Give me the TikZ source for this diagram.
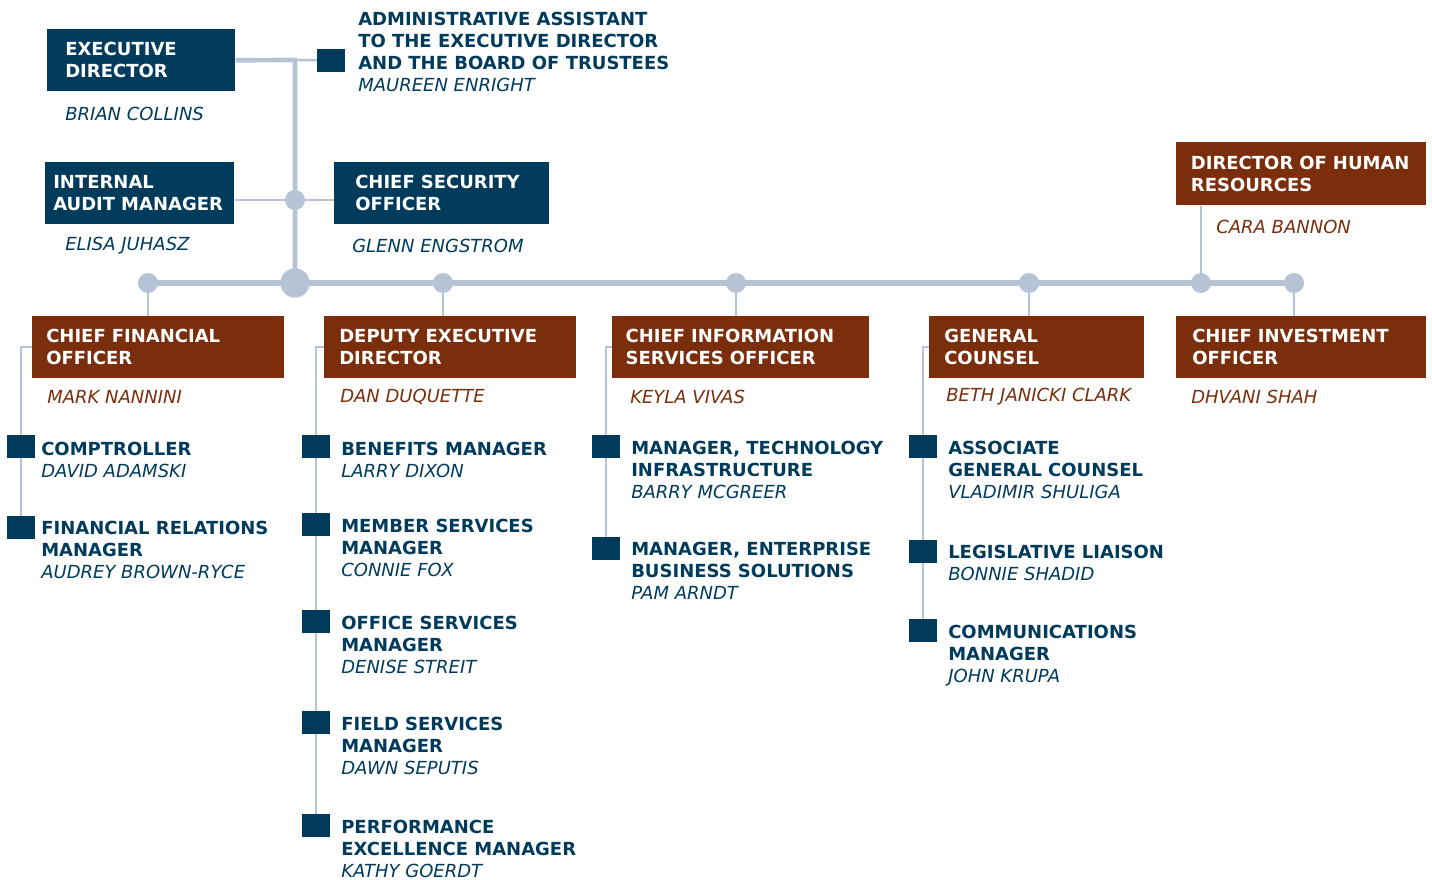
\documentclass[tikz,border=0pt]{standalone}
\usepackage{fontspec}
\setmainfont{DejaVu Sans}
\usetikzlibrary{positioning,backgrounds}
\definecolor{navy}{HTML}{003B5C}
\definecolor{rust}{HTML}{7A2E0C}
\definecolor{steel}{HTML}{B5C3D4}
\newcommand{\hdrfont}{\bfseries\fontsize{13.5}{16.5}\selectfont\hyphenpenalty=10000}
\newcommand{\itemfont}{\bfseries\fontsize{13.5}{16.5}\selectfont}
\newcommand{\whofont}{\mdseries\itshape\fontsize{13.5}{16.5}\selectfont}
\tikzset{
  hdr/.style={anchor=north west, minimum height=46.5pt, inner ysep=0pt, align=left, font=\hdrfont, text=white},
  who/.style={anchor=west, inner sep=0pt, font=\whofont},
  item/.style={anchor=north west, inner sep=0pt, align=left, font=\itemfont, text=navy},
  sq/.style={fill=navy, minimum width=20.5pt, minimum height=17.25pt, inner sep=0pt},
  dot/.style={circle, fill=steel, minimum size=15pt, inner sep=0pt},
  link/.style={draw=steel, line width=1.8pt},
  trunk/.style={draw=steel, line width=3.5pt},
  bus/.style={draw=steel, line width=4.5pt},
}
\begin{document}
\begin{tikzpicture}[x=0.75pt, y=-0.75pt]
\useasboundingbox (0,0) rectangle (1432,880);

% executive level
\node[hdr, fill=navy, inner xsep=13.5pt, text width=114pt] (ed) at (47,29) {EXECUTIVE\\DIRECTOR};
\node[who, text=navy] (ed-n) at (65,114) {BRIAN COLLINS};
\node[sq] (aa) at (331,60.5) {};
\node[item] (aa-t) at (358,11.4) {ADMINISTRATIVE ASSISTANT\\TO THE EXECUTIVE DIRECTOR\\AND THE BOARD OF TRUSTEES\\{\whofont MAUREEN ENRIGHT}};
\node[hdr, fill=navy, inner xsep=6pt, text width=129.75pt] (iam) at (45,162) {INTERNAL\\AUDIT MANAGER};
\node[who, text=navy] (iam-n) at (65,246) {ELISA JUHASZ};
\node[hdr, fill=navy, inner xsep=15.75pt, text width=129.75pt] (cso) at (334,162) {CHIEF SECURITY\\OFFICER};
\node[who, text=navy] (cso-n) at (352,246) {GLENN ENGSTROM};
\node[hdr, fill=rust, inner xsep=11pt, text width=165.5pt, minimum height=47.25pt] (hr) at (1176,142) {DIRECTOR OF HUMAN\\RESOURCES};
\node[who, text=rust] (hr-n) at (1216,227) {CARA BANNON};

% bus and dots
\node[dot, minimum size=22pt] (hub) at (295,283) {};
\node[dot] (mid) at (295,200) {};
\foreach \n/\x in {cfo/148, ded/443, ciso/736, gc/1029, hr/1201, cio/1294}
  \node[dot] (d-\n) at (\x,283) {};

% department heads
\node[hdr, fill=rust, inner xsep=10.5pt, text width=168pt] (cfo) at (32,316) {CHIEF FINANCIAL\\OFFICER};
\node[who, text=rust] (cfo-n) at (47,397) {MARK NANNINI};
\node[hdr, fill=rust, inner xsep=11.25pt, text width=166.5pt] (ded) at (324,316) {DEPUTY EXECUTIVE\\DIRECTOR};
\node[who, text=rust] (ded-n) at (340,397) {DAN DUQUETTE};
\node[hdr, fill=rust, inner xsep=10pt, text width=172.75pt] (ciso) at (612,316) {CHIEF INFORMATION\\SERVICES OFFICER};
\node[who, text=rust] (ciso-n) at (630,397) {KEYLA VIVAS};
\node[hdr, fill=rust, inner xsep=11.25pt, text width=138.75pt] (gc) at (929,316) {GENERAL\\COUNSEL};
\node[who, text=rust] (gc-n) at (946,397) {BETH JANICKI CLARK};
\node[hdr, fill=rust, inner xsep=12pt, text width=163.5pt] (cio) at (1176,316) {CHIEF INVESTMENT\\OFFICER};
\node[who, text=rust] (cio-n) at (1191,397) {DHVANI SHAH};

% finance
\node[sq] (cfo-a) at (21,447) {};
\node[item] (cfo-at) at (41,441.4) {COMPTROLLER\\{\whofont DAVID ADAMSKI}};
\node[sq] (cfo-b) at (21,527) {};
\node[item] (cfo-bt) at (41,520.4) {FINANCIAL RELATIONS\\MANAGER\\{\whofont AUDREY BROWN-RYCE}};

% deputy
\node[sq] (ded-a) at (316,447) {};
\node[item] (ded-at) at (341,441.4) {BENEFITS MANAGER\\{\whofont LARRY DIXON}};
\node[sq] (ded-b) at (316,524) {};
\node[item] (ded-bt) at (341,518.4) {MEMBER SERVICES\\MANAGER\\{\whofont CONNIE FOX}};
\node[sq] (ded-c) at (316,621) {};
\node[item] (ded-ct) at (341,615.4) {OFFICE SERVICES\\MANAGER\\{\whofont DENISE STREIT}};
\node[sq] (ded-d) at (316,722) {};
\node[item] (ded-dt) at (341,716.4) {FIELD SERVICES\\MANAGER\\{\whofont DAWN SEPUTIS}};
\node[sq] (ded-e) at (316,825) {};
\node[item] (ded-et) at (341,819.4) {PERFORMANCE\\EXCELLENCE MANAGER\\{\whofont KATHY GOERDT}};

% information services
\node[sq] (ciso-a) at (606,447) {};
\node[item] (ciso-at) at (631,440.4) {MANAGER, TECHNOLOGY\\INFRASTRUCTURE\\{\whofont BARRY MCGREER}};
\node[sq] (ciso-b) at (606,548) {};
\node[item] (ciso-bt) at (631,541.4) {MANAGER, ENTERPRISE\\BUSINESS SOLUTIONS\\{\whofont PAM ARNDT}};

% counsel
\node[sq] (gc-a) at (923,447) {};
\node[item] (gc-at) at (948,440.4) {ASSOCIATE\\GENERAL COUNSEL\\{\whofont VLADIMIR SHULIGA}};
\node[sq] (gc-b) at (923,551) {};
\node[item] (gc-bt) at (948,544.4) {LEGISLATIVE LIAISON\\{\whofont BONNIE SHADID}};
\node[sq] (gc-c) at (923,630) {};
\node[item] (gc-ct) at (948,624.4) {COMMUNICATIONS\\MANAGER\\{\whofont JOHN KRUPA}};

\begin{scope}[on background layer]
\coordinate (jt) at (295,60);
\draw[trunk] (ed.east) -- (jt) -- (hub.center);
\draw[link] (jt) -- (aa.center);
\draw[link] (iam.east |- mid) -- (cso.west |- mid);
\draw[bus] (d-cfo.center) -- (d-cio.center);
\draw[link] (hr.south -| d-hr) -- (d-hr.center);
\foreach \n in {cfo,ded,ciso,gc,cio}
  \draw[link] (d-\n.center) -- (d-\n |- \n.north);
\draw[link] (cfo.west) -| (cfo-b.center);
\draw[link] (ded.west) -| (ded-e.center);
\draw[link] (ciso.west) -| (ciso-b.center);
\draw[link] (gc.west) -| (gc-c.center);
\end{scope}
\end{tikzpicture}
\end{document}
